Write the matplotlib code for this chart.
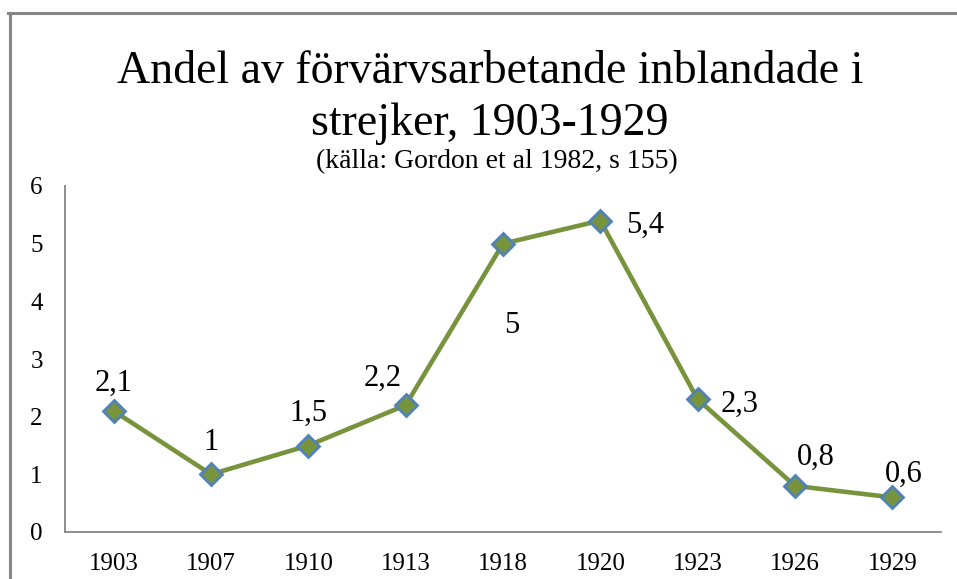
import matplotlib
matplotlib.use("Agg")
import matplotlib.pyplot as plt
from matplotlib.lines import Line2D

years = ["1903", "1907", "1910", "1913", "1918", "1920", "1923", "1926", "1929"]
values = [2.1, 1.0, 1.5, 2.2, 5.0, 5.4, 2.3, 0.8, 0.6]
labels = ["2,1", "1", "1,5", "2,2", "5", "5,4", "2,3", "0,8", "0,6"]
yticks = [0, 1, 2, 3, 4, 5, 6]

# label offsets (pixels: dx of text center, dy of baseline; positive = up)
label_offsets = [(0, 20), (0, 24), (0, 25), (-23, 19), (9, -89), (45, -12), (42, -12), (21, 21), (11, 16)]

plt.rcParams['font.family'] = ['Liberation Serif', 'DejaVu Serif']

fig = plt.figure(figsize=(9.57, 5.79), dpi=100)
W, H = 957, 579

ax = fig.add_axes([65 / W, (H - 532) / H, (941 - 65) / W, (532 - 186) / H])
x = list(range(len(years)))
ax.plot(x, values, color='#77933C', lw=3.3, marker='D', markersize=11,
        markerfacecolor='#77933C', markeredgecolor='#4F81BD', markeredgewidth=2.0,
        solid_joinstyle='round', zorder=3)

for xi, v, lab, (dx, dy) in zip(x, values, labels, label_offsets):
    ax.annotate(lab, (xi, v), xytext=(dx, dy), textcoords='offset pixels',
                ha='center', va='baseline', fontsize=22, color='black')

ax.set_xlim(-0.5, len(years) - 0.5)
ax.set_ylim(0, 6)
ax.set_xticks(x)
ax.set_xticklabels(years, fontsize=18)
ax.set_yticks(yticks)
ax.set_yticklabels([str(t) for t in yticks], fontsize=18)
ax.tick_params(axis='both', length=0)
ax.tick_params(axis='x', pad=15)
ax.tick_params(axis='y', pad=16)
for s in ['top', 'right']:
    ax.spines[s].set_visible(False)
for s in ['left', 'bottom']:
    ax.spines[s].set_color('#868686')
    ax.spines[s].set_linewidth(1.3)

# titles
fig.text(490 / W, 1 - 83 / H, "Andel av förvärvsarbetande inblandade i", ha='center', va='baseline', fontsize=33)
fig.text(490 / W, 1 - 135 / H, "strejker, 1903-1929", ha='center', va='baseline', fontsize=33)
fig.text(497 / W, 1 - 168 / H, "(källa: Gordon et al 1982, s 155)", ha='center', va='baseline', fontsize=20)

# outer frame (top and left)
fig.add_artist(Line2D([8 / W, 1.0], [1 - 12.5 / H, 1 - 12.5 / H], transform=fig.transFigure,
                      color='#878787', lw=2.2))
fig.add_artist(Line2D([9.5 / W, 9.5 / W], [0, 1 - 12.5 / H], transform=fig.transFigure,
                      color='#878787', lw=2.2))

fig.savefig("out.png", dpi=100)
